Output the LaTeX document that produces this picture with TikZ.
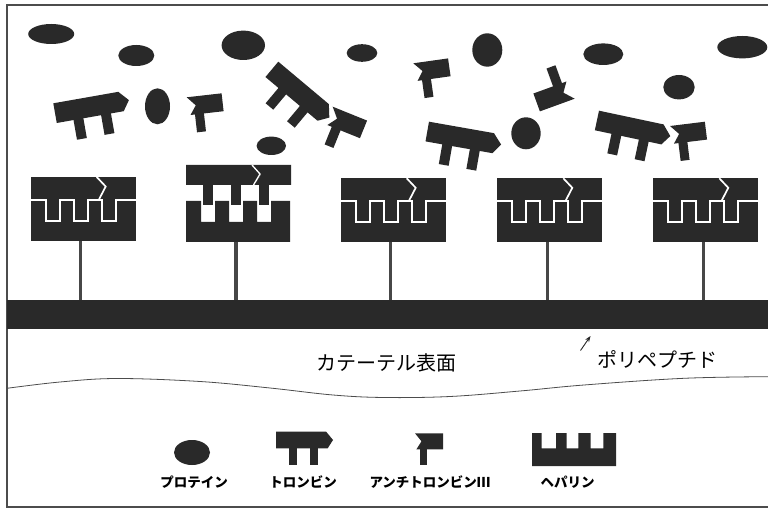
\documentclass[tikz,border=0pt]{standalone}
\usepackage{fontspec}
\newfontfamily\jp{Noto Sans CJK JP}
\usetikzlibrary{arrows.meta}

\tikzset{
  ink/.style={fill=black!84},
  sep/.style={draw=white, line width=1.7pt, line join=miter},
  stalk/.style={draw=black!72, line width=3.4pt},
  protein/.style={ink},
  % thrombin: body with a pointed right end and two legs
  thrombin/.pic={
    \fill[ink] (0,0) -- (66,0) -- (75,10) -- (68,20) -- (0,20) -- cycle;
    \fill[ink] (17,19) rectangle (27,40);
    \fill[ink] (45,19) rectangle (55,40);
  },
  % antithrombin III: body notched on the left, one leg
  antithrombin/.pic={
    \fill[ink] (0,0) -- (39,0) -- (39,20) -- (2,20) -- (9,10) -- cycle;
    \fill[ink] (7,19) rectangle (17,40);
  },
  % heparin with thrombin and antithrombin seated in its slots
  boundcomplex/.pic={
    \fill[ink] (0,0) rectangle (105,64);
    \draw[sep] (0,23) -- (15,23) -- (15,44) -- (29,44) -- (29,23) -- (43,23)
      -- (43,44) -- (57,44) -- (57,23) -- (71,23) -- (71,44) -- (85,44)
      -- (85,23) -- (105,23);
    \draw[sep] (66,0) -- (75,9.5) -- (68,23);
    \coordinate (-foot) at (50,64);
  },
  % heparin with the thrombin/antithrombin pair lifted just above it
  opencomplex/.pic={
    \pic at (0,0) {thrombin};
    \pic at (66,0) {antithrombin};
    \draw[sep, line width=1.3pt] (66,0) -- (74,9) -- (67.5,20);
    \fill[ink] (0,36) -- (15,36) -- (15,57) -- (29,57) -- (29,36) -- (43,36)
      -- (43,57) -- (57,57) -- (57,36) -- (71,36) -- (71,57) -- (85,57)
      -- (85,36) -- (104,36) -- (104,77) -- (0,77) -- cycle;
    \coordinate (-foot) at (50,77);
  },
  caption/.style={font=\jp\bfseries\fontsize{13.5}{14}\selectfont, inner sep=0pt},
  bigtext/.style={font=\jp\fontsize{20}{22}\selectfont, inner sep=0pt}
}

\begin{document}
\begin{tikzpicture}[x=1pt, y=-1pt]
  \useasboundingbox (0,0) rectangle (768,510);
  \fill[white] (0,0) rectangle (768,510);

  % outer frame
  \draw[black!70, line width=1.1pt] (768,5) -- (7,5) -- (7,507) -- (768,507);

  % free proteins
  \fill[protein] (51.2,34) ellipse [x radius=23, y radius=10];
  \fill[protein] (136.3,55.5) ellipse [x radius=18, y radius=10.5];
  \fill[protein] (243.3,45.3) ellipse [x radius=21.7, y radius=14.7];
  \fill[protein] (362,53) ellipse [x radius=15.3, y radius=8.8];
  \fill[protein] (157.5,106.3) ellipse [x radius=12.5, y radius=18];
  \fill[protein] (271.3,145.8) ellipse [x radius=14.7, y radius=9.2];
  \fill[protein] (487.3,50) ellipse [x radius=15, y radius=16.7];
  \fill[protein] (603.3,54.2) ellipse [x radius=20, y radius=10.8];
  \fill[protein] (742.3,47.2) ellipse [x radius=25, y radius=11.2];
  \fill[protein] (679,87.2) ellipse [x radius=15.7, y radius=12.2];
  \fill[protein] (526,133.3) ellipse [x radius=14.7, y radius=16];

  % free thrombin
  \pic[rotate=10] at (53.3,103.3) {thrombin};
  \pic[rotate=-40] at (278.3,61.7) {thrombin};
  \pic[rotate=-10] at (429,121.7) {thrombin};
  \pic[rotate=-12] at (599,110.7) {thrombin};

  % free antithrombin III
  \pic[rotate=6.5, scale=0.9] at (186.7,97.3) {antithrombin};
  \pic[rotate=8, scale=0.9] at (413.3,63.3) {antithrombin};
  \pic[rotate=-22, scale=0.95] at (332.7,106.7) {antithrombin};
  \pic[rotate=200, scale=0.95] at (574.7,98.7) {antithrombin};
  \pic[rotate=7, scale=0.9] at (670,126) {antithrombin};

  % heparin complexes on the catheter surface
  \pic (c1) at (30.7,177) {boundcomplex};
  \pic (c2) at (186,165) {opencomplex};
  \pic (c3) at (340.7,178.3) {boundcomplex};
  \pic (c4) at (497.3,178.3) {boundcomplex};
  \pic (c5) at (653.3,178.3) {boundcomplex};

  % polypeptide layer and tethers
  \coordinate (bartop) at (0,300);
  \fill[ink] (7,300) rectangle (768,329);
  \foreach \c in {c1,c2,c3,c4,c5}
    \draw[stalk] (\c-foot) -- (\c-foot |- bartop);

  % surface labels
  \node[bigtext] (surface) at (386.5,363) {カテーテル表面};
  \node[bigtext] (peptide) at (657,359) {ポリペプチド};
  \coordinate (ptail) at (580.5,350.5);
  \coordinate (phead) at (590.5,336);
  \draw[black!85, line width=0.9pt, -{Stealth[length=6pt, width=4.5pt]}] (ptail) -- (phead);

  % cut edge of the catheter wall
  \draw[black!70, line width=0.8pt] plot[smooth, tension=0.6] coordinates {
    (7,388.3) (60,382) (117,378.5) (200,381.5) (270,388) (333,395)
    (384,397.5) (450,396.5) (520,391) (584,385) (684,378.3) (768,376.7)};

  % legend
  \fill[protein] (192,452.5) ellipse [x radius=18, y radius=12.5];
  \pic[xscale=0.76, yscale=0.83] at (276,431.7) {thrombin};
  \pic[xscale=0.72, yscale=0.8] at (415,433.3) {antithrombin};
  \fill[ink] (532,433) -- (541.7,433) -- (541.7,448.3) -- (556,448.3) -- (556,433)
    -- (566.7,433) -- (566.7,448.3) -- (578.3,448.3) -- (578.3,433) -- (590.7,433)
    -- (590.7,448.3) -- (603.3,448.3) -- (603.3,433) -- (616,433) -- (616,466)
    -- (532,466) -- cycle;

  \node[caption] (lprotein) at (194,481.7) {プロテイン};
  \node[caption] (lthrombin) at (303,481.7) {トロンビン};
  \node[caption] (lanti) at (430,481.7) {アンチトロンビンⅢ};
  \node[caption] (lheparin) at (567.5,481.7) {ヘパリン};
\end{tikzpicture}
\end{document}
